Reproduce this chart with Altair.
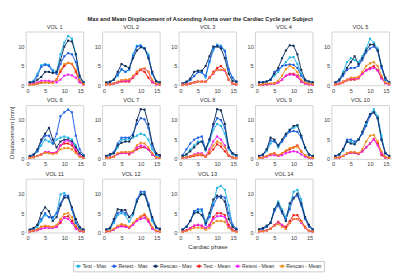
import altair as alt
import pandas as pd

PHASES = list(range(1, 16))
SUBJECTS = [f"VOL {i}" for i in range(1, 15)]
SERIES = ["Test - Max", "Retest - Max", "Rescan - Max",
          "Test - Mean", "Retest - Mean", "Rescan - Mean"]
COLORS = ["#22b4e6", "#1f5fe0", "#12305a", "#ee1d1d", "#ee22ee", "#f08b1c"]

TEST_MAX = [
    [0.8, 1.2, 3.0, 5.2, 5.5, 5.3, 4.0, 3.5, 8.0, 11.0, 12.7, 12.0, 8.0, 2.0, 0.8],
    [0.5, 0.8, 1.5, 2.5, 4.0, 3.5, 4.0, 8.0, 10.2, 10.3, 9.5, 8.0, 3.0, 1.0, 0.5],
    [0.5, 0.8, 1.5, 2.5, 3.5, 3.5, 2.0, 6.0, 9.0, 10.5, 10.2, 9.0, 4.0, 2.0, 1.0],
    [0.8, 0.8, 1.0, 1.5, 2.5, 3.5, 5.0, 6.0, 7.2, 7.3, 5.5, 3.0, 1.5, 1.0, 0.8],
    [0.7, 1.5, 3.5, 6.0, 7.0, 6.5, 6.0, 7.5, 9.5, 12.0, 11.0, 9.5, 5.0, 1.5, 0.8],
    [0.6, 1.0, 2.0, 3.5, 5.0, 4.5, 4.0, 5.0, 5.5, 5.8, 5.5, 5.0, 3.5, 1.5, 0.8],
    [0.6, 1.0, 1.5, 3.0, 5.0, 5.0, 5.2, 5.5, 6.0, 6.5, 6.2, 5.0, 2.5, 1.0, 0.6],
    [0.6, 1.2, 2.5, 3.5, 4.5, 4.5, 2.2, 4.5, 7.5, 9.0, 8.5, 6.5, 2.5, 1.2, 0.8],
    [0.8, 1.0, 2.0, 4.0, 4.8, 3.0, 4.5, 6.0, 7.5, 8.0, 8.5, 6.0, 2.8, 1.2, 0.8],
    [0.8, 1.2, 2.2, 4.5, 4.5, 4.0, 5.0, 6.5, 9.0, 11.5, 12.8, 11.0, 6.0, 1.5, 0.8],
    [0.6, 1.0, 1.5, 3.0, 4.5, 4.0, 3.5, 5.0, 9.8, 10.2, 9.0, 6.0, 2.5, 1.0, 0.6],
    [0.6, 1.0, 2.5, 4.5, 5.0, 4.5, 2.8, 4.5, 8.0, 10.0, 10.0, 7.0, 3.0, 1.2, 0.8],
    [0.8, 1.5, 3.0, 5.5, 5.5, 5.5, 3.0, 4.5, 7.5, 11.5, 12.0, 11.0, 7.0, 2.0, 1.0],
    [0.8, 1.0, 1.5, 2.5, 6.0, 8.0, 6.0, 4.0, 7.0, 10.5, 11.0, 8.5, 4.0, 2.0, 0.8],
]
RETEST_MAX = [
    [0.7, 1.0, 2.5, 4.8, 5.3, 5.0, 3.5, 3.0, 5.5, 7.5, 8.3, 8.0, 6.0, 2.0, 0.8],
    [0.5, 0.8, 1.5, 2.8, 4.2, 3.5, 4.2, 7.5, 10.0, 10.2, 9.5, 7.5, 3.0, 1.0, 0.5],
    [0.5, 0.8, 1.4, 2.4, 3.4, 3.3, 2.5, 6.2, 9.5, 10.2, 10.0, 8.8, 4.2, 2.0, 1.0],
    [0.8, 0.8, 1.0, 1.5, 3.5, 4.0, 5.0, 5.2, 5.4, 5.3, 4.5, 2.5, 1.2, 0.8, 0.7],
    [0.7, 1.2, 2.5, 4.0, 4.5, 4.5, 5.0, 6.5, 8.5, 9.5, 10.0, 9.0, 4.5, 1.5, 0.8],
    [0.5, 1.0, 2.0, 4.5, 6.0, 6.0, 4.0, 6.5, 11.0, 12.0, 12.7, 12.0, 6.0, 2.5, 1.0],
    [0.8, 1.2, 1.8, 4.0, 5.5, 5.5, 5.5, 6.5, 9.0, 10.5, 10.2, 8.0, 3.5, 1.2, 0.8],
    [1.0, 2.5, 4.0, 5.0, 5.5, 5.8, 2.5, 5.0, 8.5, 10.5, 10.0, 8.0, 3.0, 1.5, 1.0],
    [0.8, 1.0, 2.5, 4.8, 4.5, 3.5, 4.5, 6.0, 7.0, 7.2, 7.0, 5.5, 3.0, 1.2, 0.8],
    [0.8, 1.2, 2.5, 5.0, 5.0, 4.5, 5.0, 6.5, 8.5, 11.0, 12.0, 10.5, 5.0, 1.5, 0.8],
    [0.7, 1.0, 2.0, 3.5, 5.0, 4.0, 4.0, 5.0, 7.5, 9.5, 9.5, 6.0, 2.5, 1.0, 0.7],
    [0.8, 1.2, 3.0, 5.0, 5.5, 5.0, 4.0, 5.0, 8.5, 10.5, 10.5, 7.5, 3.5, 1.2, 0.8],
    [0.8, 1.5, 3.0, 5.5, 6.0, 6.0, 2.0, 4.0, 7.0, 9.0, 9.5, 9.0, 5.0, 2.0, 1.0],
    [0.8, 1.0, 1.5, 2.5, 5.5, 7.0, 5.0, 3.5, 6.0, 9.0, 9.5, 7.0, 3.5, 1.5, 0.8],
]
RESCAN_MAX = [
    [0.8, 0.8, 1.5, 2.2, 3.5, 3.5, 3.2, 3.5, 6.5, 10.0, 11.5, 11.3, 8.0, 2.5, 0.8],
    [0.8, 1.0, 1.5, 3.5, 5.5, 5.0, 4.5, 7.0, 9.0, 9.8, 9.5, 7.0, 3.5, 1.2, 0.8],
    [0.5, 1.0, 1.8, 3.5, 3.8, 3.8, 5.0, 7.5, 10.0, 10.0, 9.5, 7.0, 3.0, 1.2, 1.0],
    [0.8, 0.8, 1.0, 1.5, 3.0, 4.5, 7.0, 9.0, 10.3, 10.2, 8.0, 4.0, 1.5, 1.0, 0.8],
    [0.8, 1.5, 3.0, 4.5, 6.0, 7.5, 5.5, 7.0, 9.0, 10.5, 10.5, 9.0, 5.0, 2.0, 0.8],
    [0.8, 1.2, 2.5, 5.0, 6.5, 8.0, 5.0, 3.0, 4.5, 5.0, 5.0, 4.5, 3.0, 1.5, 0.8],
    [0.8, 1.2, 1.5, 3.5, 4.2, 4.5, 4.5, 6.0, 10.0, 12.8, 12.7, 9.0, 4.0, 1.5, 1.0],
    [0.8, 1.2, 2.0, 3.0, 4.0, 4.5, 2.5, 5.0, 9.0, 12.8, 12.5, 9.0, 3.0, 1.5, 1.0],
    [0.8, 1.2, 2.5, 5.5, 5.0, 3.5, 5.0, 6.5, 7.5, 8.5, 8.7, 6.0, 3.0, 1.2, 0.8],
    [0.8, 1.2, 2.5, 4.5, 4.0, 3.8, 5.0, 7.0, 9.5, 11.5, 12.0, 10.5, 5.0, 1.5, 0.8],
    [0.8, 1.2, 2.0, 5.0, 6.5, 5.5, 3.0, 4.0, 7.0, 9.0, 9.0, 6.5, 3.5, 1.5, 0.8],
    [0.8, 1.2, 3.5, 6.0, 5.8, 5.8, 4.0, 5.0, 8.0, 9.8, 9.8, 7.0, 4.0, 1.5, 1.0],
    [0.8, 1.5, 3.0, 5.0, 5.2, 4.5, 2.5, 5.0, 8.5, 9.5, 9.0, 8.0, 3.5, 1.5, 0.8],
    [0.8, 1.2, 1.8, 2.5, 6.0, 7.5, 5.5, 3.0, 7.5, 8.8, 10.0, 7.5, 4.0, 2.0, 0.8],
]
TEST_MEAN = [
    [0.2, 0.3, 0.5, 0.7, 0.8, 0.8, 0.8, 1.5, 3.5, 5.0, 5.8, 5.5, 3.5, 1.0, 0.3],
    [0.3, 0.3, 0.5, 0.8, 1.0, 1.0, 1.0, 2.0, 3.0, 4.0, 3.5, 2.0, 0.8, 0.3, 0.2],
    [0.2, 0.3, 0.5, 0.8, 1.0, 1.0, 1.0, 2.0, 3.5, 4.5, 5.0, 4.0, 1.5, 0.5, 0.3],
    [0.2, 0.2, 0.3, 0.4, 0.5, 0.8, 1.5, 2.5, 3.0, 3.0, 2.5, 1.0, 0.5, 0.3, 0.2],
    [0.3, 0.4, 0.8, 1.3, 1.5, 1.5, 1.8, 3.0, 4.0, 4.5, 5.0, 4.0, 2.0, 0.6, 0.3],
    [0.3, 0.5, 0.8, 1.2, 1.8, 1.7, 1.5, 1.7, 3.5, 4.0, 4.0, 3.5, 2.0, 0.8, 0.3],
    [0.3, 0.4, 0.6, 1.3, 1.6, 1.7, 1.2, 1.8, 2.5, 3.0, 3.0, 2.5, 1.2, 0.4, 0.3],
    [0.3, 0.4, 0.6, 0.8, 1.0, 1.0, 0.6, 1.5, 2.5, 3.8, 3.2, 2.0, 0.8, 0.4, 0.2],
    [0.3, 0.4, 0.8, 1.2, 1.5, 0.8, 1.5, 2.0, 2.5, 3.0, 3.5, 2.0, 1.0, 0.4, 0.3],
    [0.3, 0.4, 0.8, 1.4, 1.6, 1.6, 1.3, 2.0, 3.0, 4.0, 5.2, 4.0, 1.0, 0.4, 0.3],
    [0.3, 0.5, 0.8, 1.5, 1.6, 1.5, 1.4, 1.5, 2.5, 4.0, 4.2, 3.0, 1.5, 0.5, 0.3],
    [0.3, 0.4, 0.8, 1.5, 1.8, 1.6, 1.4, 2.0, 3.2, 4.0, 4.5, 3.0, 1.2, 0.4, 0.3],
    [0.3, 0.6, 1.2, 1.8, 2.0, 1.8, 1.2, 2.0, 4.0, 5.0, 5.0, 4.5, 2.0, 0.8, 0.3],
    [0.3, 0.4, 0.6, 1.0, 2.0, 2.8, 2.0, 1.5, 3.0, 4.5, 4.5, 3.0, 1.5, 0.5, 0.3],
]
RETEST_MEAN = [
    [0.3, 0.5, 0.8, 1.2, 1.2, 1.2, 1.0, 0.8, 1.5, 2.5, 2.8, 2.6, 2.0, 0.8, 0.3],
    [0.3, 0.3, 0.5, 0.8, 1.2, 1.2, 1.3, 2.2, 3.5, 4.2, 4.3, 3.5, 1.0, 0.3, 0.2],
    [0.2, 0.3, 0.5, 0.8, 1.0, 1.0, 1.0, 2.0, 3.0, 4.0, 4.0, 3.8, 1.5, 0.5, 0.3],
    [0.2, 0.2, 0.3, 0.4, 0.5, 0.8, 1.5, 2.5, 2.8, 2.7, 2.2, 1.0, 0.5, 0.3, 0.2],
    [0.3, 0.5, 1.0, 1.5, 1.8, 1.8, 2.0, 3.0, 3.8, 4.2, 4.5, 3.8, 1.8, 0.6, 0.3],
    [0.3, 0.5, 0.8, 1.2, 1.8, 1.8, 1.5, 1.8, 3.5, 4.5, 4.8, 4.0, 2.5, 1.0, 0.3],
    [0.3, 0.4, 0.6, 1.3, 1.5, 1.5, 1.5, 1.8, 3.0, 3.5, 3.2, 2.5, 1.2, 0.4, 0.3],
    [0.3, 0.5, 0.8, 1.2, 1.5, 1.5, 0.8, 2.5, 4.5, 5.8, 5.0, 3.5, 1.0, 0.5, 0.3],
    [0.3, 0.4, 0.6, 1.0, 1.0, 0.8, 1.0, 1.5, 1.8, 2.0, 1.8, 1.2, 0.6, 0.3, 0.2],
    [0.3, 0.4, 0.8, 1.4, 1.6, 1.6, 1.3, 2.0, 3.0, 4.0, 5.0, 3.5, 1.5, 0.4, 0.3],
    [0.3, 0.4, 0.6, 1.0, 1.2, 1.2, 1.2, 1.5, 3.0, 3.8, 3.5, 2.5, 1.0, 0.4, 0.3],
    [0.3, 0.4, 0.8, 1.4, 1.6, 1.5, 1.2, 2.0, 3.0, 3.5, 3.8, 2.8, 1.0, 0.4, 0.3],
    [0.3, 0.6, 1.2, 1.8, 2.0, 1.8, 1.2, 1.8, 3.5, 4.2, 4.3, 4.0, 1.5, 0.6, 0.3],
    [0.3, 0.4, 0.6, 1.0, 1.8, 2.5, 2.0, 1.0, 2.5, 3.5, 3.5, 2.5, 1.2, 0.4, 0.3],
]
RESCAN_MEAN = [
    [0.2, 0.3, 0.5, 0.7, 0.8, 0.7, 0.7, 1.5, 4.0, 5.5, 5.8, 5.6, 4.0, 1.5, 0.4],
    [0.3, 0.3, 0.5, 1.0, 1.4, 1.5, 1.6, 2.5, 3.5, 4.2, 4.4, 3.5, 1.5, 0.5, 0.3],
    [0.2, 0.3, 0.5, 0.8, 1.0, 1.0, 1.0, 2.0, 3.2, 4.0, 4.0, 4.0, 1.5, 0.5, 0.3],
    [0.2, 0.3, 0.5, 0.5, 0.6, 1.2, 2.5, 4.2, 5.0, 4.5, 3.5, 1.5, 0.8, 0.5, 0.3],
    [0.3, 0.5, 1.0, 1.5, 2.0, 2.0, 2.2, 3.5, 5.0, 5.7, 6.0, 5.0, 2.5, 0.8, 0.5],
    [0.3, 0.5, 0.8, 1.2, 1.6, 1.5, 1.3, 1.5, 2.5, 2.8, 2.8, 2.5, 1.5, 0.6, 0.3],
    [0.3, 0.4, 0.6, 1.5, 1.8, 1.8, 1.8, 2.0, 3.5, 4.2, 4.0, 3.0, 1.5, 0.5, 0.3],
    [0.3, 0.5, 0.7, 1.0, 1.2, 1.2, 0.7, 2.0, 3.5, 4.5, 4.0, 3.0, 1.0, 0.5, 0.3],
    [0.3, 0.4, 0.8, 1.3, 1.4, 1.0, 1.5, 2.2, 2.8, 3.0, 3.2, 2.0, 1.0, 0.4, 0.3],
    [0.3, 0.5, 0.8, 1.5, 1.8, 1.8, 1.5, 2.5, 4.5, 6.0, 6.2, 4.5, 2.0, 0.6, 0.3],
    [0.3, 0.5, 0.8, 1.5, 1.8, 1.6, 1.5, 2.0, 3.5, 4.8, 5.0, 4.0, 1.8, 0.6, 0.3],
    [0.3, 0.5, 1.0, 1.8, 2.2, 2.0, 1.5, 2.5, 3.5, 4.2, 4.8, 3.5, 1.5, 0.5, 0.3],
    [0.2, 0.5, 0.8, 1.2, 1.3, 1.2, 0.8, 1.2, 2.5, 3.0, 3.0, 2.8, 1.2, 0.5, 0.2],
    [0.3, 0.4, 0.6, 1.0, 1.8, 2.2, 1.5, 1.0, 2.5, 3.5, 3.5, 2.8, 1.3, 0.5, 0.3],
]

ALL = [TEST_MAX, RETEST_MAX, RESCAN_MAX, TEST_MEAN, RETEST_MEAN, RESCAN_MEAN]

rows = []
for si, subj in enumerate(SUBJECTS):
    for name, arr in zip(SERIES, ALL):
        for ph, v in zip(PHASES, arr[si]):
            rows.append({"subject": subj, "series": name, "phase": ph, "disp": v})
df = pd.DataFrame(rows)

FONT = "Liberation Sans"
W, H = 61, 57

legend = alt.Legend(
    title=None, orient="none", legendX=50, legendY=243,
    direction="horizontal", columns=6,
    symbolType="M-1,0L1,0M-0.35,-0.35L0.35,-0.35L0.35,0.35L-0.35,0.35Z",
    symbolSize=36, symbolStrokeWidth=1, labelFontSize=5.5, labelFont=FONT,
    labelColor="#333333", strokeColor="#c8c8c8", padding=2, columnPadding=2,
    labelOffset=1,
)


def panel(i):
    subj = SUBJECTS[i]
    xt = "Cardiac phase" if i == 12 else None
    yt = "Displacement [mm]" if i == 5 else None
    return alt.Chart(df).transform_filter(
        alt.datum.subject == subj
    ).mark_line(
        strokeWidth=1,
        point=alt.OverlayMarkDef(filled=True, size=5, shape="square"),
    ).encode(
        x=alt.X("phase:Q", scale=alt.Scale(domain=[0, 15], nice=False),
                axis=alt.Axis(values=[0, 5, 10, 15], title=xt, titlePadding=4)),
        y=alt.Y("disp:Q", scale=alt.Scale(domain=[0, 13.8], nice=False),
                axis=alt.Axis(values=[0, 5, 10], title=yt)),
        color=alt.Color("series:N", scale=alt.Scale(domain=SERIES, range=COLORS),
                        legend=legend),
        detail="series:N",
    ).properties(
        width=W, height=H,
        title=alt.TitleParams(subj, fontSize=6, fontWeight="normal", font=FONT,
                              color="#333333", offset=2),
    )


chart = alt.concat(
    *[panel(i) for i in range(14)], columns=5, align="each",
    spacing=alt.RowColnumber(row=3, column=7),
).properties(
    title=alt.TitleParams(
        "Max and Mean Displacement of Ascending Aorta over the Cardiac Cycle per Subject",
        fontSize=6, fontWeight="bold", font=FONT, color="#222222", anchor="middle", offset=2),
    padding=0,
).configure_view(
    stroke="#c4c4c4", strokeWidth=0.8,
).configure_axis(
    domain=False, ticks=False, grid=False, labelFontSize=6, labelFont=FONT,
    labelColor="#444444", labelPadding=2, titleFontSize=6.5, titleFont=FONT,
    titleFontWeight="normal", titleColor="#333333", titlePadding=3,
)

chart.save("out.html", embed_options={"renderer": "svg", "actions": False})
